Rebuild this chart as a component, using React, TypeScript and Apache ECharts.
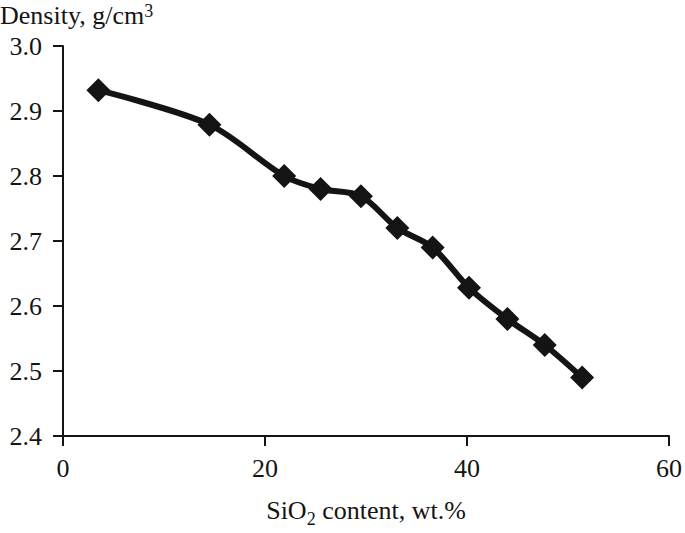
import React, { useEffect, useRef } from "react";
import * as echarts from "echarts";

const silicaContent = [3.5, 14.5, 21.9, 25.5, 29.5, 33.1, 36.6, 40.2, 44.0, 47.7, 51.4];
const density = [2.932, 2.879, 2.80, 2.78, 2.769, 2.72, 2.69, 2.628, 2.58, 2.54, 2.49];

const FONT = "Liberation Serif, Times New Roman, serif";
const INK = "#141414";

export default function App() {
  const ref = useRef<HTMLDivElement>(null);
  useEffect(() => {
    if (!ref.current) return;
    const chart = echarts.init(ref.current, undefined, { renderer: "svg" });
    chart.setOption({
      animation: false,
      backgroundColor: "#ffffff",
      title: {
        text: "Density, g/cm{sup|3}",
        left: 0,
        top: 2,
        padding: 0,
        textStyle: {
          fontFamily: FONT,
          fontSize: 26,
          lineHeight: 26,
          fontWeight: "normal",
          color: INK,
          rich: {
            sup: { fontFamily: FONT, fontSize: 18, lineHeight: 14, color: INK, verticalAlign: "top" },
          },
        },
      },
      grid: { left: 63, right: 14, top: 46, bottom: 87, containLabel: false },
      xAxis: {
        type: "value",
        min: 0,
        max: 60,
        interval: 20,
        name: "SiO{sub|2} content, wt.%",
        nameLocation: "middle",
        nameGap: 56,
        nameTextStyle: {
          fontFamily: FONT,
          fontSize: 26,
          color: INK,
          rich: {
            sub: { fontFamily: FONT, fontSize: 18, color: INK, padding: [18, 0, 0, 0] },
          },
        },
        axisLine: { show: true, lineStyle: { color: INK, width: 2 } },
        axisTick: { show: true, inside: false, length: 10, lineStyle: { color: INK, width: 2 } },
        axisLabel: { fontFamily: FONT, fontSize: 26, color: INK, margin: 19 },
        splitLine: { show: false },
      },
      yAxis: {
        type: "value",
        min: 2.4,
        max: 3.0,
        interval: 0.1,
        axisLine: { show: true, lineStyle: { color: INK, width: 2 } },
        axisTick: { show: true, inside: false, length: 10, lineStyle: { color: INK, width: 2 } },
        axisLabel: {
          fontFamily: FONT,
          fontSize: 26,
          color: INK,
          margin: 21,
          formatter: (v: number) => v.toFixed(1),
        },
        splitLine: { show: false },
      },
      series: [
        {
          type: "line",
          data: silicaContent.map((x, i) => [x, density[i]]),
          smooth: 0.3,
          symbol: "diamond",
          symbolSize: 24,
          itemStyle: { color: INK },
          lineStyle: { color: INK, width: 6 },
        },
      ],
    });
    return () => chart.dispose();
  }, []);
  return <div ref={ref} style={{ width: 685, height: 533, position: "absolute", left: 0, top: 0 }} />;
}
